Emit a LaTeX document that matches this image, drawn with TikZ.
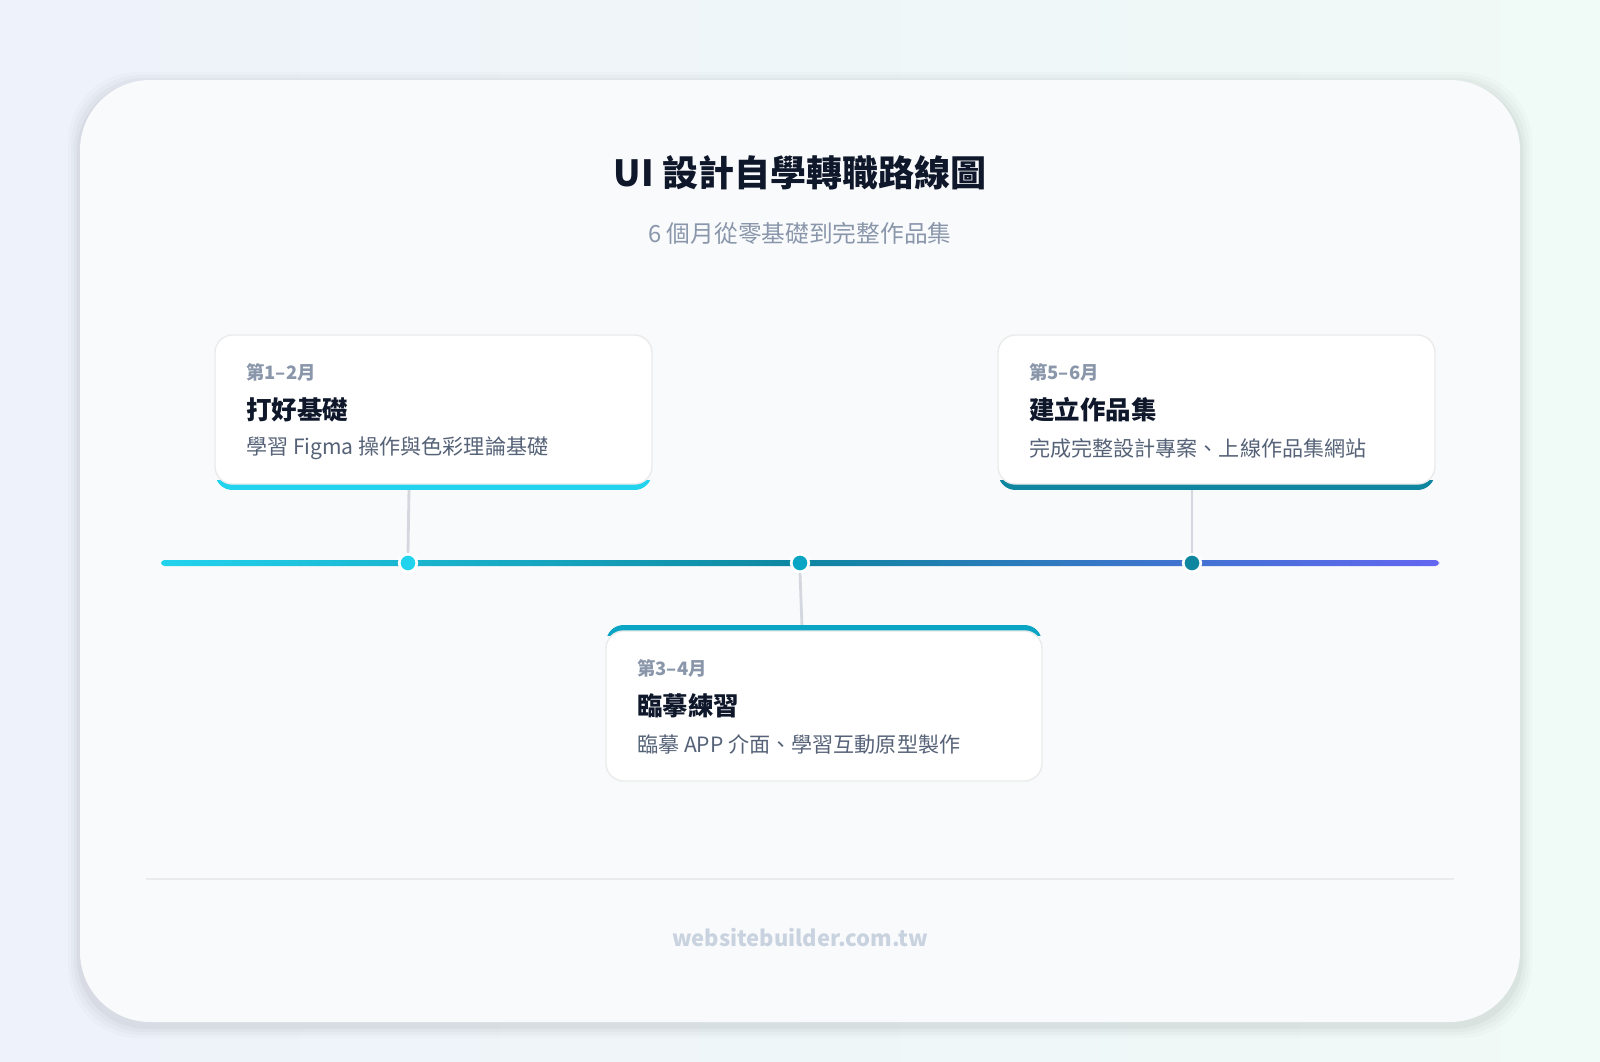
\documentclass[tikz,border=0pt]{standalone}
\usepackage{fontspec}
\setmainfont{Noto Sans CJK TC}
\definecolor{bgA}{HTML}{EEF2FB}
\definecolor{bgB}{HTML}{F0FAF6}
\definecolor{cardbg}{HTML}{F9FAFC}
\definecolor{ttl}{HTML}{0F172A}
\definecolor{sub}{HTML}{8A97AB}
\definecolor{desc}{HTML}{556277}
\definecolor{cyanA}{HTML}{22D3EE}
\definecolor{tealA}{HTML}{0AA5C4}
\definecolor{tealB}{HTML}{0E86A0}
\definecolor{indA}{HTML}{6366F1}
\definecolor{conn}{HTML}{D4D8DE}
\definecolor{foot}{HTML}{C9D3E0}
\tikzset{
 card/.style={draw=black!8,line width=0.8pt,fill=white,rounded corners=10pt},
 lbl/.style={anchor=west,text=sub,font=\bfseries\fontsize{10.5}{12}\selectfont},
 hd/.style={anchor=west,text=ttl,font=\bfseries\fontsize{14.5}{16}\selectfont},
 ds/.style={anchor=west,text=desc,font=\fontsize{12}{13}\selectfont},
 dot/.style={circle,fill=#1,draw=white,line width=1.5pt,minimum size=10pt,inner sep=0pt},
 cn/.style={conn,line width=1.6pt}
}
\begin{document}
\begin{tikzpicture}[x=0.02cm,y=-0.02cm]
\shade[left color=bgA,right color=bgB] (0,0) rectangle (1600,1062);
\useasboundingbox (0,0) rectangle (1600,1062);
\foreach \i/\o in {12/0.015,9/0.02,6/0.025,3/0.03}
  \fill[black,opacity=\o,rounded corners=40pt] (80-\i,80-\i+4) rectangle (1520+\i,1022+\i+4);
\fill[cardbg,rounded corners=40pt] (80,80) rectangle (1520,1022);
\node[text=ttl,font=\bfseries\fontsize{20.5}{24}\selectfont] (title) at (800,173) {UI 設計自學轉職路線圖};
\node[text=sub,font=\fontsize{13.5}{15}\selectfont] (subt) at (800,233) {6 個月從零基礎到完整作品集};
% timeline
\shade[left color=cyanA,right color=tealB,rounded corners=2pt] (161,560) rectangle (800,566);
\shade[left color=tealB,right color=indA,rounded corners=2pt] (799,560) rectangle (1439,566);
% connectors
\coordinate (c1) at (409,488); \coordinate (c3) at (1192,488); \coordinate (c2) at (802,627);
\node[dot=cyanA] (d1) at (408,563) {};
\node[dot=tealA] (d2) at (800,563) {};
\node[dot=tealB] (d3) at (1192,563) {};
\draw[cn] (c1) -- (d1.north);
\draw[cn] (c3) -- (d3.north);
\draw[cn] (d2.south) -- (c2);
% card 1
\begin{scope}
\clip[rounded corners=10pt] (215,335) rectangle (652,490);
\fill[cyanA] (215,480) rectangle (652,490);
\end{scope}
\draw[card] (215,335) rectangle (652,484);
\node[lbl] (l1) at (240,372) {第1–2月};
\node[hd] (h1) at (240,410) {打好基礎};
\node[ds] (s1) at (240,448) {學習 Figma 操作與色彩理論基礎};
% card 3
\begin{scope}
\clip[rounded corners=10pt] (998,335) rectangle (1435,490);
\fill[tealB] (998,480) rectangle (1435,490);
\end{scope}
\draw[card] (998,335) rectangle (1435,484);
\node[lbl] (l3) at (1023,372) {第5–6月};
\node[hd] (h3) at (1023,410) {建立作品集};
\node[ds] (s3) at (1023,448) {完成完整設計專案、上線作品集網站};
% card 2
\begin{scope}
\clip[rounded corners=10pt] (606,625) rectangle (1042,781);
\fill[tealA] (606,625) rectangle (1042,636);
\end{scope}
\draw[card] (606,631) rectangle (1042,781);
\node[lbl] (l2) at (631,668) {第3–4月};
\node[hd] (h2) at (631,706) {臨摹練習};
\node[ds] (s2) at (631,744) {臨摹 APP 介面、學習互動原型製作};
% footer
\draw[black!8,line width=0.8pt] (146,879) -- (1454,879);
\node[text=foot,font=\bfseries\fontsize{12.5}{14}\selectfont] (ft) at (800,938) {websitebuilder.com.tw};
\end{tikzpicture}
\end{document}
